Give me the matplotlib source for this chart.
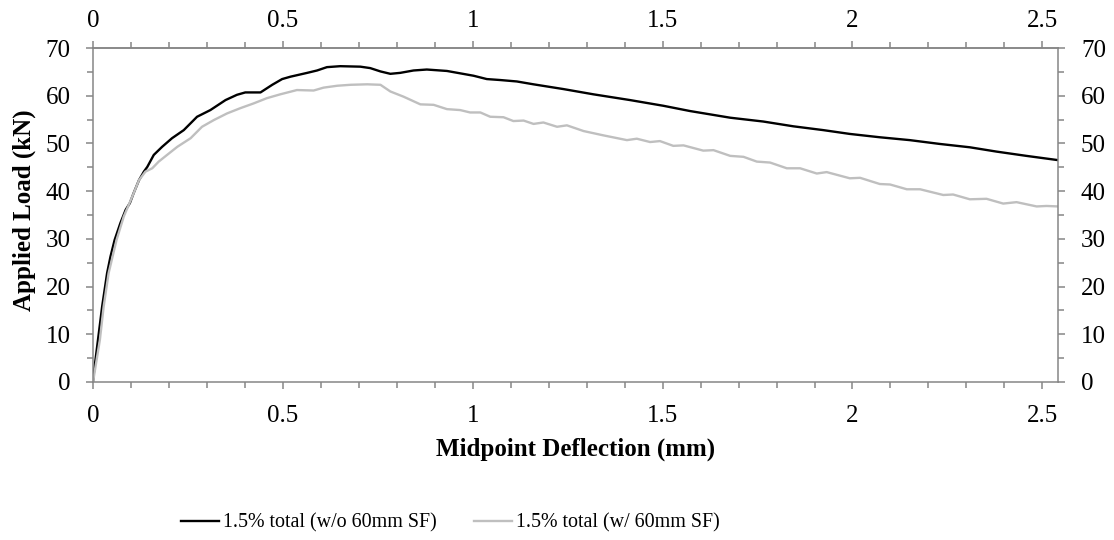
import matplotlib
matplotlib.use("Agg")
import matplotlib.pyplot as plt
from matplotlib.ticker import MultipleLocator

plt.rcParams['font.family'] = ['Liberation Serif', 'DejaVu Serif']

# series 1: 1.5% total (w/o 60mm SF)
wo_x = [0.0, 0.002, 0.013, 0.024, 0.037, 0.046, 0.057, 0.072, 0.086, 0.097, 0.107,
        0.121, 0.134, 0.143, 0.160, 0.182, 0.208, 0.239, 0.274, 0.309, 0.349, 0.379,
        0.401, 0.441, 0.472, 0.498, 0.520, 0.564, 0.590, 0.616, 0.651, 0.704, 0.730,
        0.757, 0.783, 0.809, 0.844, 0.879, 0.932, 0.967, 1.002, 1.037, 1.072, 1.116,
        1.160, 1.239, 1.318, 1.414, 1.502, 1.572, 1.678, 1.765, 1.844, 1.923, 1.993,
        2.072, 2.151, 2.230, 2.309, 2.379, 2.458, 2.542]
wo_y = [0.0, 1.8, 8.8, 15.8, 22.8, 26.3, 29.8, 33.3, 36.1, 37.5, 39.6,
        42.3, 44.1, 45.1, 47.6, 49.3, 51.1, 52.8, 55.6, 57.0, 59.1, 60.2,
        60.7, 60.7, 62.3, 63.5, 64.0, 64.8, 65.3, 66.0, 66.2, 66.1, 65.8,
        65.1, 64.6, 64.8, 65.3, 65.5, 65.2, 64.7, 64.2, 63.5, 63.3, 63.0,
        62.4, 61.4, 60.3, 59.1, 57.9, 56.8, 55.4, 54.6, 53.6, 52.8, 52.0,
        51.3, 50.7, 49.9, 49.2, 48.3, 47.4, 46.5]

# series 2: 1.5% total (w/ 60mm SF)
w_x = [0.0, 0.018, 0.028, 0.041, 0.062, 0.081, 0.103, 0.121, 0.138, 0.156, 0.173,
       0.195, 0.222, 0.257, 0.287, 0.318, 0.353, 0.388, 0.423, 0.458, 0.493, 0.537,
       0.581, 0.607, 0.643, 0.678, 0.722, 0.757, 0.783, 0.818, 0.862, 0.897, 0.932,
       0.967, 0.993, 1.020, 1.046, 1.081, 1.107, 1.134, 1.160, 1.186, 1.222, 1.248,
       1.292, 1.344, 1.406, 1.432, 1.467, 1.493, 1.528, 1.555, 1.607, 1.634, 1.678,
       1.713, 1.748, 1.783, 1.827, 1.862, 1.906, 1.932, 1.993, 2.020, 2.072, 2.099,
       2.143, 2.178, 2.239, 2.265, 2.309, 2.353, 2.397, 2.432, 2.485, 2.511, 2.542]
w_y = [0.0, 8.8, 15.8, 22.8, 29.8, 34.7, 38.8, 42.3, 44.1, 44.8, 46.2,
       47.6, 49.3, 51.1, 53.5, 54.9, 56.3, 57.4, 58.4, 59.5, 60.3, 61.2,
       61.1, 61.7, 62.1, 62.3, 62.4, 62.3, 60.9, 59.8, 58.2, 58.1, 57.2,
       57.0, 56.5, 56.5, 55.6, 55.5, 54.7, 54.8, 54.1, 54.4, 53.5, 53.8,
       52.6, 51.7, 50.7, 51.0, 50.3, 50.5, 49.5, 49.6, 48.5, 48.6, 47.4,
       47.2, 46.2, 46.0, 44.8, 44.8, 43.7, 44.0, 42.7, 42.8, 41.5, 41.4,
       40.4, 40.4, 39.2, 39.3, 38.3, 38.4, 37.4, 37.7, 36.8, 36.9, 36.8]

x_max = 2.542
y_max = 70

spine_col = '#868686'

fig = plt.figure(figsize=(11.14, 5.40), dpi=100)
ax = fig.add_axes([0.0835, 0.2926, 0.8665, 0.6184])

ax.plot(wo_x, wo_y, color='black', lw=1.7, label='1.5% total (w/o 60mm SF)')
ax.plot(w_x, w_y, color='#BFBFBF', lw=1.7, label='1.5% total (w/ 60mm SF)')

ax.set_xlim(0, x_max)
ax.set_ylim(0, y_max)
ax.xaxis.set_major_locator(MultipleLocator(0.5))
ax.xaxis.set_minor_locator(MultipleLocator(0.1))
ax.yaxis.set_major_locator(MultipleLocator(10))
ax.yaxis.set_minor_locator(MultipleLocator(5))
fmt = plt.FuncFormatter(lambda v, p: f'{v:g}')
ax.xaxis.set_major_formatter(fmt)

for s in ax.spines.values():
    s.set_color(spine_col)
    s.set_linewidth(1.1)

ax.tick_params(which='both', direction='out', color=spine_col, width=1.1,
               top=False, right=True, labeltop=False, labelright=True,
               labelsize=18, pad=11)
ax.tick_params(which='major', length=5.3)
ax.tick_params(which='minor', length=4)

# mirrored top axis (labels sit a bit closer to the spine)
top = ax.twiny()
top.set_xlim(0, x_max)
top.xaxis.set_major_locator(MultipleLocator(0.5))
top.xaxis.set_minor_locator(MultipleLocator(0.1))
top.xaxis.set_major_formatter(fmt)
for s in top.spines.values():
    s.set_visible(False)
top.spines['top'].set_visible(True)
top.spines['top'].set_color(spine_col)
top.spines['top'].set_linewidth(1.1)
top.tick_params(which='both', direction='out', color=spine_col, width=1.1,
                labelsize=18, pad=6.5)
top.tick_params(which='major', length=5.3)
top.tick_params(which='minor', length=4)

# axis titles
fig.text(0.5166, 0.168, 'Midpoint Deflection (mm)', fontsize=18, fontweight='bold',
         ha='center', va='center')
fig.text(0.0215, 0.61, 'Applied Load (kN)', fontsize=18, fontweight='bold',
         ha='center', va='center', rotation=90)

fig.legend(loc='center', bbox_to_anchor=(0.404, 0.0315), ncol=2, frameon=False,
           fontsize=14.4, handlelength=1.9, handletextpad=0.2, columnspacing=1.85)

fig.savefig('out.png', dpi=100)
